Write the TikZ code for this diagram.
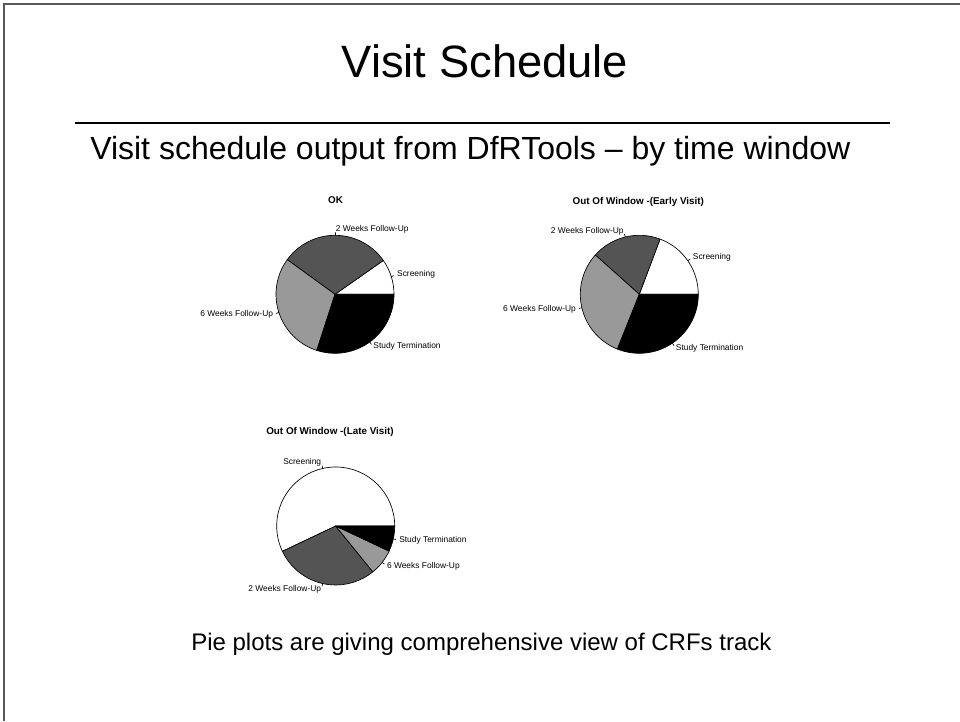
\documentclass[tikz,border=0pt]{standalone}
\usepackage{fontspec}
\setmainfont{Liberation Sans}

\definecolor{piedark}{gray}{0.33}
\definecolor{piemid}{gray}{0.6}
\definecolor{framegray}{gray}{0.35}

% radius of every pie, in pixel units
\newcommand{\pr}{59}

% one slice: fill, start angle, end angle, label, node name
\newcommand{\pieslice}[5]{%
  \draw[pieedge, fill=#1] (0,0) -- (#2:\pr) arc[start angle=#2, end angle=#3, radius=\pr] -- cycle;
  \pgfmathsetmacro\midang{(#2+#3)/2}%
  \pgfmathsetmacro\cosv{cos(\midang)}%
  \draw[pieedge] ({\midang}:{\pr}) -- ({\midang}:{1.05*\pr});
  \ifdim\cosv pt<0pt
    \node[pielabel, anchor=east] (#5) at ({\midang}:{1.1*\pr}) {#4};
  \else
    \node[pielabel, anchor=west] (#5) at ({\midang}:{1.1*\pr}) {#4};
  \fi
}

% a whole pie: name prefix, centre x, centre y (downwards), three boundary angles
\newcommand{\visitpie}[6]{%
  \begin{scope}[shift={(#2,-#3)}]
    \coordinate (#1c) at (0,0);
    \pieslice{white}{0}{#4}{Screening}{#1scr}
    \pieslice{piedark}{#4}{#5}{2 Weeks Follow-Up}{#1two}
    \pieslice{piemid}{#5}{#6}{6 Weeks Follow-Up}{#1six}
    \pieslice{black}{#6}{360}{Study Termination}{#1end}
  \end{scope}}

\tikzset{
  pieedge/.style={draw=black, line width=0.5pt, line join=round},
  pielabel/.style={inner sep=0pt, font=\fontsize{6.3}{7}\selectfont},
  pietitle/.style={inner sep=0pt, font=\bfseries\fontsize{7.4}{9}\selectfont},
  framerule/.style={draw=framegray, line width=1.5pt},
}

\begin{document}
\begin{tikzpicture}[x=0.75pt, y=0.75pt]
  \useasboundingbox (0,0) rectangle (960,-721);
  \fill[white] (0,0) rectangle (960,-721);

  % slide frame
  \draw[framerule] (4,-721) -- (4,-4) -- (960,-4);

  % headings
  \node[anchor=base, inner sep=0pt, font=\fontsize{34}{40}\selectfont] (title) at (485,-77) {Visit Schedule};
  \draw[line width=0.9pt] (75,-123) -- (890,-123);
  \node[anchor=base west, inner sep=0pt, font=\fontsize{24}{29}\selectfont] (subtitle) at (90,-159)
    {Visit schedule output from DfRTools -- by time window};

  % pie charts
  \node[pietitle] (okT) at (335.5,-200) {OK};
  \visitpie{ok}{335}{294.3}{35}{144}{252}

  \node[pietitle] (earlyT) at (638.3,-201.5) {Out Of Window -(Early Visit)};
  \visitpie{early}{639.3}{294.3}{69.4}{138.2}{248.2}

  \node[pietitle] (lateT) at (330,-431.7) {Out Of Window -(Late Visit)};
  \visitpie{late}{335.7}{526}{205.4}{309}{334.8}

  % closing remark
  \node[anchor=base west, inner sep=0pt, font=\fontsize{18}{22}\selectfont] (note) at (191,-650)
    {Pie plots are giving comprehensive view of CRFs track};
\end{tikzpicture}
\end{document}
